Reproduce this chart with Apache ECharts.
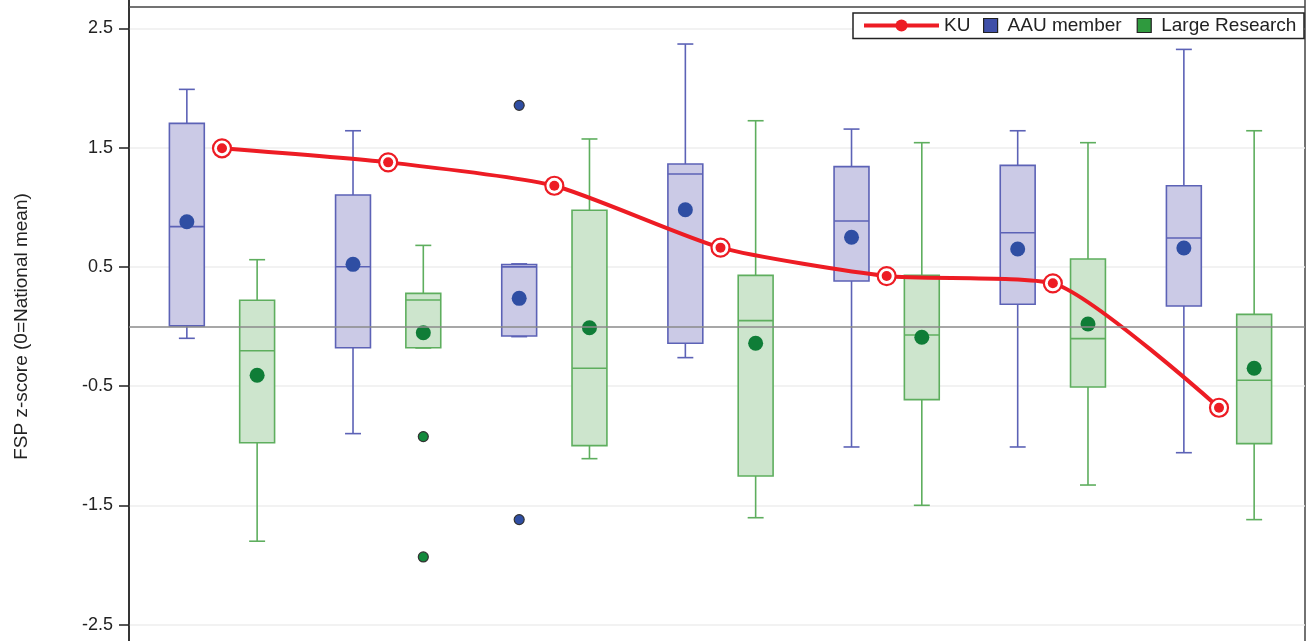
<!DOCTYPE html>
<html>
<head>
<meta charset="utf-8">
<script src="https://cdn.jsdelivr.net/npm/echarts@6/dist/echarts.min.js"></script>
<style>
  html, body { margin: 0; padding: 0; background: #fff; }
  #chart { width: 1313px; height: 641px; }
</style>
</head>
<body>
<div id="chart"></div>
<script>
// ---- data ----
const groupIndex = [0, 1, 2, 3, 4, 5, 6];
const kuScores = [1.494, 1.376, 1.180, 0.661, 0.423, 0.362, -0.681];

const aauMin    = [-0.099, -0.898, -0.085, -0.261, -1.010, -1.010, -1.058];
const aauQ1     = [ 0.005, -0.178, -0.080, -0.141,  0.381,  0.186,  0.172];
const aauMedian = [ 0.837,  0.501,  0.500,  1.278,  0.884,  0.786,  0.742];
const aauQ3     = [ 1.703,  1.102,  0.520,  1.362,  1.340,  1.351,  1.180];
const aauMax    = [ 1.988,  1.641,  0.525,  2.368,  1.655,  1.641,  2.323];
const aauMean   = [ 0.878,  0.521,  0.236,  0.979,  0.748,  0.650,  0.658];
const aauOutlierGroup = [2, 2];
const aauOutlierValue = [1.854, -1.619];

const lrMin    = [-1.800, -0.180, -1.108, -1.603, -1.499, -1.329, -1.619];
const lrQ1     = [-0.974, -0.178, -0.999, -1.253, -0.613, -0.507, -0.982];
const lrMedian = [-0.203,  0.222, -0.350,  0.049, -0.071, -0.102, -0.451];
const lrQ3     = [ 0.220,  0.278,  0.974,  0.429,  0.429,  0.566,  0.102];
const lrMax    = [ 0.560,  0.680,  1.572,  1.725,  1.541,  1.541,  1.641];
const lrMean   = [-0.409, -0.052, -0.010, -0.141, -0.090,  0.021, -0.350];
const lrOutlierGroup = [1, 1];
const lrOutlierValue = [-0.923, -1.932];

const yMin = -3.5;   // ticks at ..., -2.5, -1.5, ... 2.5, 3.5
const yMax = 3.5;
const frameTop = 2.678;  // value where the plot frame's top edge sits

// ---- layout / style constants ----
const OFFSET = 0.2115;
const BOX_W = 0.21;
const CAP_W = 0.096;
const FONT = '"Liberation Sans", Arial, sans-serif';

const AAU = { fill: '#cbcae6', stroke: '#5c62b6', dot: '#2f4ea3' };
const LR  = { fill: '#cde5cd', stroke: '#5eae5e', dot: '#0f7d37' };
const RED = '#ed1c24';

function boxData(offset, mn, q1, md, q3, mx) {
  return groupIndex.map((g, i) => [g + offset, mn[i], q1[i], md[i], q3[i], mx[i]]);
}
function makeRender(c) {
  return function (params, api) {
    const x = api.value(0);
    const pMin = api.coord([x, api.value(1)]);
    const pQ1 = api.coord([x, api.value(2)]);
    const pMed = api.coord([x, api.value(3)]);
    const pQ3 = api.coord([x, api.value(4)]);
    const pMax = api.coord([x, api.value(5)]);
    const bw = api.size([BOX_W, 0])[0];
    const cw = api.size([CAP_W, 0])[0];
    const cx = pMed[0];
    const ls = { stroke: c.stroke, lineWidth: 1.6 };
    return {
      type: 'group',
      children: [
        { type: 'line', shape: { x1: cx, y1: pMax[1], x2: cx, y2: pQ3[1] }, style: ls },
        { type: 'line', shape: { x1: cx, y1: pQ1[1], x2: cx, y2: pMin[1] }, style: ls },
        { type: 'line', shape: { x1: cx - cw / 2, y1: pMax[1], x2: cx + cw / 2, y2: pMax[1] }, style: ls },
        { type: 'line', shape: { x1: cx - cw / 2, y1: pMin[1], x2: cx + cw / 2, y2: pMin[1] }, style: ls },
        { type: 'rect', shape: { x: cx - bw / 2, y: pQ3[1], width: bw, height: pQ1[1] - pQ3[1] },
          style: { fill: c.fill, stroke: c.stroke, lineWidth: 1.6 } },
        { type: 'line', shape: { x1: cx - bw / 2, y1: pMed[1], x2: cx + bw / 2, y2: pMed[1] }, style: ls }
      ]
    };
  };
}

const chart = echarts.init(document.getElementById('chart'), null, { renderer: 'canvas' });
const option = {
  animation: false,
  backgroundColor: '#fff',
  grid: {
    left: 129, right: 8, top: -91, bottom: -103,
    outerBoundsMode: 'none', containLabel: false,
    show: true, borderColor: '#444', borderWidth: 1.5, backgroundColor: 'transparent'
  },
  xAxis: {
    type: 'value', min: -0.5596, max: 6.5175, show: false
  },
  yAxis: {
    type: 'value', min: yMin, max: yMax, interval: 1,
    name: 'FSP z-score (0=National mean)', nameLocation: 'middle', nameGap: 98,
    nameTextStyle: { fontFamily: FONT, fontSize: 19, color: '#222' },
    axisLine: { show: true, onZero: false, lineStyle: { color: '#222', width: 1.5 } },
    axisTick: { show: true, inside: false, length: 10, lineStyle: { color: '#222', width: 1.5 } },
    axisLabel: { fontFamily: FONT, fontSize: 18, color: '#222', margin: 16,
      formatter: v => v.toFixed(1) },
    splitLine: { show: true, lineStyle: { color: '#eeeeee', width: 1.5 } }
  },
  legend: [
    { data: ['KU'], left: 862, top: 16, padding: 0, itemWidth: 75, itemHeight: 15, z: 60,
      lineStyle: { width: 4 },
      textStyle: { fontFamily: FONT, fontSize: 19, color: '#222' } },
    { data: [
        { name: 'AAU member', icon: 'rect', itemStyle: { color: '#3f4fa8', borderColor: '#222', borderWidth: 1.2 } },
        { name: 'Large Research', icon: 'rect', itemStyle: { color: '#2f9a3e', borderColor: '#222', borderWidth: 1.2 } }
      ],
      left: 983, top: 16, padding: 0, itemWidth: 14, itemHeight: 14, itemGap: 15, z: 60,
      textStyle: { fontFamily: FONT, fontSize: 19, color: '#222', padding: [0, 0, 0, 5] } }
  ],
  graphic: [
    { type: 'rect', z: 50, shape: { x: 853, y: 13, width: 451, height: 25.5 },
      style: { fill: '#fff', stroke: '#222', lineWidth: 1.5 } }
  ],
  series: [
    { name: 'AAU member', type: 'custom', z: 2, renderItem: makeRender(AAU),
      data: boxData(-OFFSET, aauMin, aauQ1, aauMedian, aauQ3, aauMax), encode: { x: 0, y: [1, 2, 3, 4, 5] },
      markLine: { silent: true, symbol: 'none', label: { show: false },
        lineStyle: { color: '#444', width: 1.5, type: 'solid' }, data: [{ yAxis: frameTop }] } },
    { name: 'Large Research', type: 'custom', z: 2, renderItem: makeRender(LR),
      data: boxData(OFFSET, lrMin, lrQ1, lrMedian, lrQ3, lrMax), encode: { x: 0, y: [1, 2, 3, 4, 5] },
      markLine: { silent: true, symbol: 'none', label: { show: false },
        lineStyle: { color: '#8a8a8a', width: 1.5, type: 'solid' }, data: [{ yAxis: 0 }] } },
    { name: 'AAU member', type: 'scatter', z: 3, symbol: 'circle', symbolSize: 15,
      itemStyle: { color: AAU.dot, opacity: 1 },
      data: groupIndex.map((g, i) => [g - OFFSET, aauMean[i]]) },
    { name: 'Large Research', type: 'scatter', z: 3, symbol: 'circle', symbolSize: 15,
      itemStyle: { color: LR.dot, opacity: 1 },
      data: groupIndex.map((g, i) => [g + OFFSET, lrMean[i]]) },
    { name: 'AAU member', type: 'scatter', z: 3, symbol: 'circle', symbolSize: 10,
      itemStyle: { color: '#2f4ea3', borderColor: '#333', borderWidth: 1.2, opacity: 1 },
      data: aauOutlierGroup.map((g, i) => [g - OFFSET, aauOutlierValue[i]]) },
    { name: 'Large Research', type: 'scatter', z: 3, symbol: 'circle', symbolSize: 10,
      itemStyle: { color: '#138a3c', borderColor: '#333', borderWidth: 1.2, opacity: 1 },
      data: lrOutlierGroup.map((g, i) => [g + OFFSET, lrOutlierValue[i]]) },
    { name: 'KU', type: 'line', z: 4, smooth: 0.2, symbol: 'circle', symbolSize: 10,
      lineStyle: { color: RED, width: 4 }, itemStyle: { color: RED },
      data: groupIndex.map((g, i) => [g, kuScores[i]]) },
    { name: 'KU', type: 'scatter', z: 5, symbol: 'circle', symbolSize: 18,
      itemStyle: { color: '#fff', borderColor: RED, borderWidth: 2.2, opacity: 1 },
      data: groupIndex.map((g, i) => [g, kuScores[i]]) },
    { name: 'KU', type: 'scatter', z: 6, symbol: 'circle', symbolSize: 10,
      itemStyle: { color: RED, opacity: 1 },
      data: groupIndex.map((g, i) => [g, kuScores[i]]) }
  ]
};
chart.setOption(option);
</script>
</body>
</html>
